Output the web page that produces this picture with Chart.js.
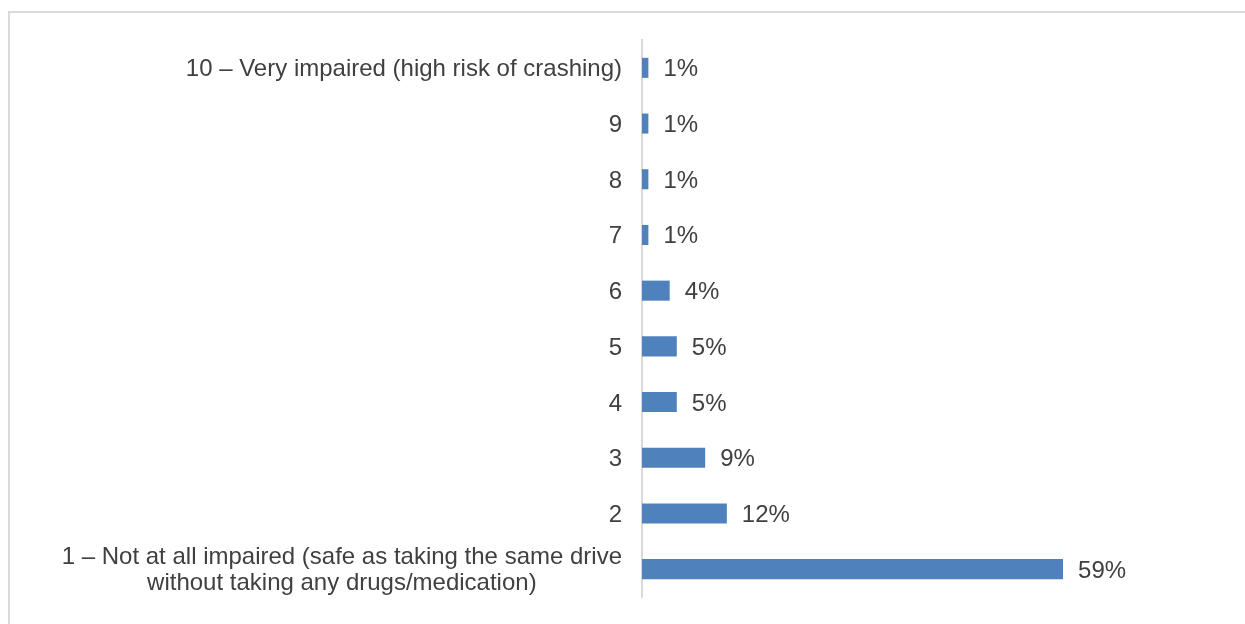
<!DOCTYPE html>
<html>
<head>
<meta charset="utf-8">
<script src="https://cdn.jsdelivr.net/npm/chart.js@4/dist/chart.umd.min.js"></script>
<style>
    html, body { margin: 0; padding: 0; background: #fff; overflow: hidden; }
    #wrap { position: relative; width: 1245px; height: 624px; }
    #frame {
        position: absolute; left: 8px; top: 11px; width: 1300px; height: 700px;
        border-top: 2px solid #d9d9d9; border-left: 2px solid #d9d9d9;
    }
    #chart { position: absolute; left: 0; top: 0; }
</style>
</head>
<body>
<div id="wrap">
    <div id="frame"></div>
    <canvas id="chart" width="1245" height="624"></canvas>
</div>
<script>
// Données (de haut en bas)
const categories = [
    '10 – Very impaired (high risk of crashing)',
    '9', '8', '7', '6', '5', '4', '3', '2',
    ['1 – Not at all impaired (safe as taking the same drive', 'without taking any drugs/medication)']
];
const pourcentages = [0.9, 0.9, 0.9, 0.9, 3.9, 4.9, 4.9, 8.9, 11.95, 59.3];
const etiquettes = ['1%', '1%', '1%', '1%', '4%', '5%', '5%', '9%', '12%', '59%'];

const police = '24px "Liberation Sans", Arial, sans-serif';
const couleurTexte = '#404040';
const decalageBase = 8.5; // moitié de la hauteur des capitales

// Libellés de l'axe Y (bloc multiligne centré, aligné à droite)
const libellesY = {
    id: 'libellesY',
    afterDraw(chart) {
        const ctx = chart.ctx;
        const y = chart.scales.y;
        const droite = chart.chartArea.left - 20;
        ctx.save();
        ctx.font = police;
        ctx.fillStyle = couleurTexte;
        ctx.textBaseline = 'alphabetic';
        categories.forEach(function(lab, i) {
            const cy = y.getPixelForValue(i);
            if (Array.isArray(lab)) {
                const hauteurLigne = 26;
                const largeur = Math.max.apply(null, lab.map(function(l) { return ctx.measureText(l).width; }));
                ctx.textAlign = 'center';
                lab.forEach(function(l, j) {
                    const dy = (j - (lab.length - 1) / 2) * hauteurLigne;
                    ctx.fillText(l, droite - largeur / 2, cy + dy + decalageBase - 1);
                });
            } else {
                ctx.textAlign = 'right';
                ctx.fillText(lab, droite, cy + decalageBase);
            }
        });
        ctx.restore();
    }
};

// Étiquettes de valeur à droite des barres
const etiquettesValeurs = {
    id: 'etiquettesValeurs',
    afterDatasetsDraw(chart) {
        const ctx = chart.ctx;
        const meta = chart.getDatasetMeta(0);
        ctx.save();
        ctx.font = police;
        ctx.fillStyle = couleurTexte;
        ctx.textAlign = 'left';
        ctx.textBaseline = 'alphabetic';
        meta.data.forEach(function(bar, i) {
            ctx.fillText(etiquettes[i], bar.x + 15, bar.y + decalageBase);
        });
        ctx.restore();
    }
};

const ctx = document.getElementById('chart').getContext('2d');
new Chart(ctx, {
    type: 'bar',
    data: {
        labels: categories,
        datasets: [{
            data: pourcentages,
            backgroundColor: '#4f81bd',
            barPercentage: 0.36,
            categoryPercentage: 1
        }]
    },
    options: {
        indexAxis: 'y',
        responsive: false,
        animation: false,
        layout: { padding: { top: 40, bottom: 27, left: 0, right: 106 } },
        scales: {
            x: {
                display: false,
                min: 0,
                max: 70
            },
            y: {
                grid: { display: false, drawTicks: false },
                border: { display: true, color: '#d9d9d9', width: 2 },
                ticks: { display: false },
                afterFit: function(scale) { scale.width = 642; }
            }
        },
        plugins: {
            legend: { display: false },
            tooltip: { enabled: false }
        }
    },
    plugins: [libellesY, etiquettesValeurs]
});
</script>
</body>
</html>
